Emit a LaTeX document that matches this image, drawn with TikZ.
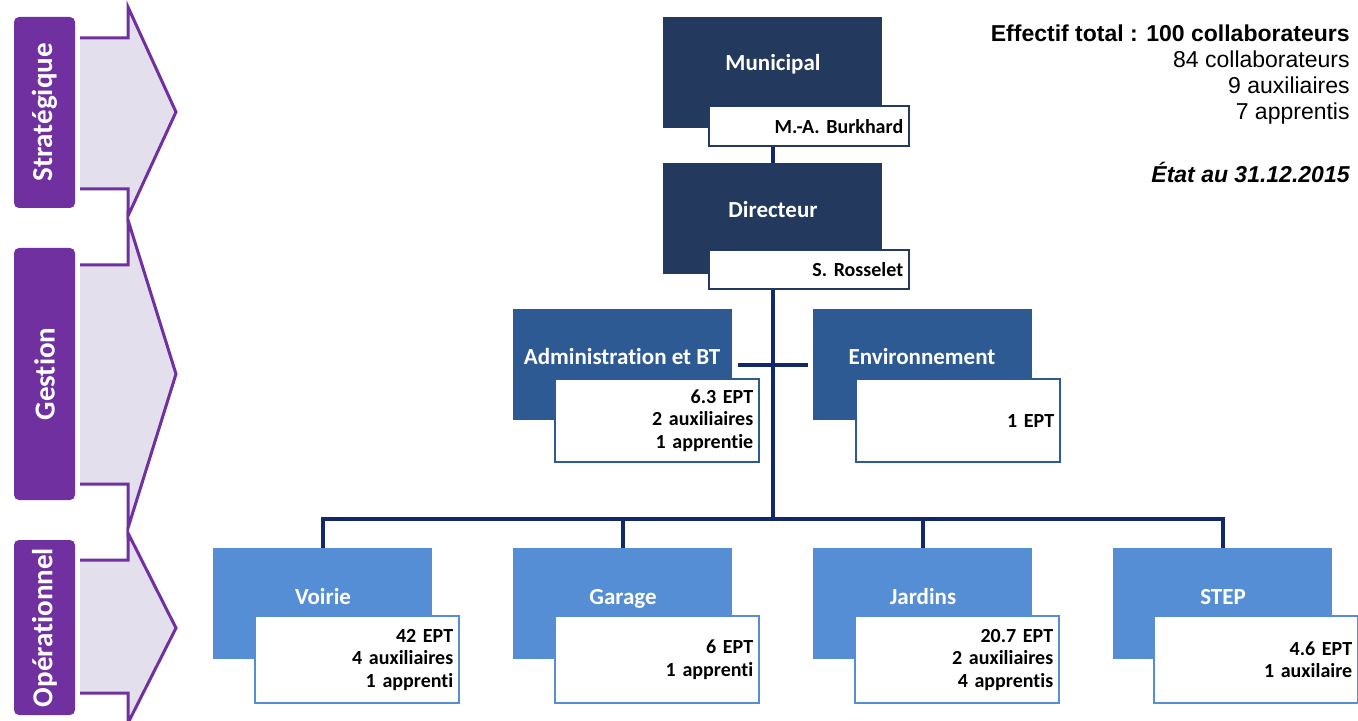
\documentclass[tikz,border=0pt]{standalone}
\usepackage{fontspec}
\setmainfont{Carlito}[Ligatures=NoCommon]
\newfontfamily\arialfont{Liberation Sans}
\usetikzlibrary{positioning,calc}

\definecolor{navy}{HTML}{23395D}
\definecolor{midblue}{HTML}{2E5A94}
\definecolor{lightblue}{HTML}{558ED5}
\definecolor{linkblue}{HTML}{13286A}
\definecolor{levelpurple}{HTML}{7030A0}
\definecolor{lavender}{HTML}{E4DFEC}

\begin{document}
\begin{tikzpicture}[x=0.5pt,y=-0.5pt,
    darkbox/.style={fill=#1, draw=none, anchor=north west, inner sep=0pt, minimum width=109.5pt, minimum height=55.5pt},
    infobox/.style={fill=white, draw=#1, line width=1.2pt, anchor=north west, inner xsep=3pt, inner ysep=0pt, text width=96pt, align=right, minimum height=43.5pt, font=\bfseries\fontsize{10}{11.2}\selectfont},
    title/.style={text=white, inner sep=0pt, text height=9.2pt, text depth=2pt, font=\bfseries\fontsize{11.5}{13}\selectfont},
    link/.style={draw=linkblue, line width=2pt},
    level/.style={fill=levelpurple, rounded corners=2.5pt, rotate=90, text=white, inner sep=0pt, minimum height=30.5pt, font=\bfseries\fontsize{14.5}{16}\selectfont},
    levelarrow/.style={fill=lavender, draw=levelpurple, line width=1.5pt}]
    \useasboundingbox (0,0) rectangle (1358,721);

    % Level arrows
    \filldraw[levelarrow] (80,38) -- (128,38) -- (128,7) -- (176,112) -- (128,216) -- (128,189) -- (80,189);
    \filldraw[levelarrow] (80,265) -- (128,265) -- (128,220) -- (176,374) -- (128,528) -- (128,484) -- (80,484);
    \filldraw[levelarrow] (80,560) -- (128,560) -- (128,533) -- (176,628) -- (128,723) -- (128,693) -- (80,693);

    % Level labels
    \node[level, minimum width=95.5pt] (strat) at (44.5,112.5) {Stratégique};
    \node[level, minimum width=126pt] (gest) at (44.5,374) {Gestion};
    \node[level, minimum width=87.5pt] (oper) at (44.5,627.5) {Opérationnel};

    % Staff summary
    \node[anchor=north east, align=right, inner sep=0pt, font=\arialfont\fontsize{11.5}{13}\selectfont] (staff) at (1350,24)
        {\textbf{Effectif total : 100 collaborateurs}\\84 collaborateurs\\9 auxiliaires\\7 apprentis};
    \node[anchor=east, inner sep=0pt, font=\arialfont\bfseries\itshape\fontsize{11.5}{13}\selectfont] (date) at (1350,172) {État au 31.12.2015};

    % Municipal and director
    \node[darkbox=navy] (mun) at (663,17) {};
    \node[title] (mun-t) at (773,63) {Municipal};
    \node[infobox=navy, text width=94pt, minimum height=20pt] (mun-i) at (708,105) {M.-A. Burkhard};
    \node[darkbox=navy] (dir) at (663,163) {};
    \node[title] (dir-t) at (773,210) {Directeur};
    \node[infobox=navy, text width=94pt, minimum height=19.5pt] (dir-i) at (708,249) {S. Rosselet};

    % Management units
    \node[darkbox=midblue] (adm) at (513,309) {};
    \node[title] (adm-t) at (622,357) {Administration et BT};
    \node[infobox=midblue, minimum height=41.5pt] (adm-i) at (554,378) {6.3 EPT\\2 auxiliaires\\1 apprentie};
    \node[darkbox=midblue] (env) at (813,309) {};
    \node[title] (env-t) at (922,357) {Environnement};
    \node[infobox=midblue, minimum height=41.5pt] (env-i) at (855,378) {1 EPT};

    % Operational units
    \node[darkbox=lightblue] (voi) at (213,548) {};
    \node[title] (voi-t) at (323,597) {Voirie};
    \node[infobox=lightblue] (voi-i) at (254,615) {42 EPT\\4 auxiliaires\\1 apprenti};
    \node[darkbox=lightblue] (gar) at (513,548) {};
    \node[title] (gar-t) at (623,597) {Garage};
    \node[infobox=lightblue] (gar-i) at (554,615) {6 EPT\\1 apprenti};
    \node[darkbox=lightblue] (jar) at (813,548) {};
    \node[title] (jar-t) at (923,597) {Jardins};
    \node[infobox=lightblue] (jar-i) at (854,615) {20.7 EPT\\2 auxiliaires\\4 apprentis};
    \node[darkbox=lightblue] (stp) at (1113,548) {};
    \node[title] (stp-t) at (1223,597) {STEP};
    \node[infobox=lightblue] (stp-i) at (1153,615) {4.6 EPT\\1 auxilaire};

    % Connectors
    \coordinate (bus) at (773,519);
    \draw[link] (mun-i.south -| mun.south) -- (dir.north);
    \draw[link] (dir-i.south -| dir.south) -- (dir.south |- bus);
    \draw[link, shorten <=2.5pt, shorten >=2.5pt] (adm.east) -- (env.west);
    \draw[link] (voi.north) -- (voi.north |- bus) -- (stp.north |- bus) -- (stp.north);
    \draw[link] (gar.north) -- (gar.north |- bus);
    \draw[link] (jar.north) -- (jar.north |- bus);
\end{tikzpicture}
\end{document}
